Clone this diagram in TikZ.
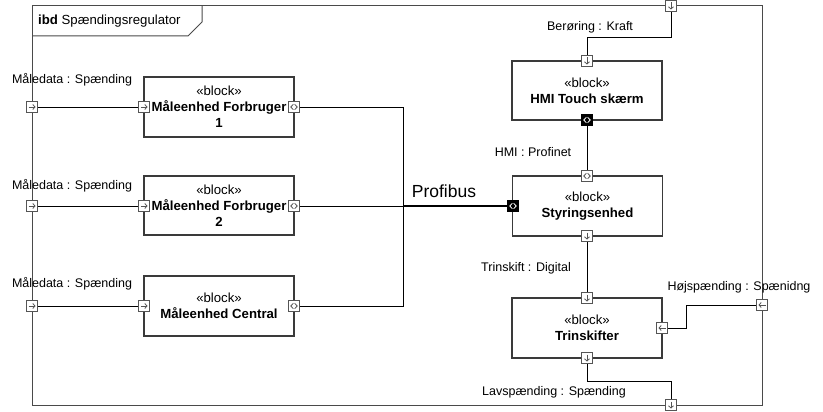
\documentclass[tikz,border=0pt]{standalone}
\usepackage{fontspec}
\setmainfont{Liberation Sans}
\usetikzlibrary{arrows.meta}
\definecolor{portgray}{HTML}{555555}
\definecolor{framegray}{HTML}{4A4A4A}
\definecolor{boxgray}{HTML}{3A3A3A}
\tikzset{
  lbl/.style={font=\fontsize{12.5}{14}\selectfont, inner sep=0pt, text=black},
  block/.style={draw=boxgray, line width=1.2pt, fill=white, minimum width=150pt, minimum height=60pt,
    align=center, font=\fontsize{13.2}{16}\selectfont, inner sep=0pt},
  conn/.style={draw=black, line width=0.9pt},
  glyph/.style={draw=portgray, line width=0.8pt},
  port/.style={rectangle, draw=portgray, fill=white, line width=1pt, minimum size=10.5pt, inner sep=0pt, outer sep=0pt},
  pR/.style={port, path picture={\draw[glyph,-{Straight Barb[length=2.2pt,width=5pt]}]
      ([xshift=-3.5pt]path picture bounding box.center) -- ([xshift=3.5pt]path picture bounding box.center);}},
  pL/.style={port, path picture={\draw[glyph,-{Straight Barb[length=2.2pt,width=5pt]}]
      ([xshift=3.5pt]path picture bounding box.center) -- ([xshift=-3.5pt]path picture bounding box.center);}},
  pD/.style={port, path picture={\draw[glyph,-{Straight Barb[length=2.2pt,width=5pt]}]
      ([yshift=3.5pt]path picture bounding box.center) -- ([yshift=-3.5pt]path picture bounding box.center);}},
  pIO/.style={port, path picture={
      \draw[glyph] ([shift={(-0.6pt,2.8pt)}]path picture bounding box.center) -- ([shift={(-3.2pt,0pt)}]path picture bounding box.center) -- ([shift={(-0.6pt,-2.8pt)}]path picture bounding box.center);
      \draw[glyph] ([shift={(0.6pt,2.8pt)}]path picture bounding box.center) -- ([shift={(3.2pt,0pt)}]path picture bounding box.center) -- ([shift={(0.6pt,-2.8pt)}]path picture bounding box.center);}},
  pIOb/.style={port, draw=black, fill=black, path picture={
      \draw[white, line width=0.8pt] ([shift={(-0.6pt,2.8pt)}]path picture bounding box.center) -- ([shift={(-3.2pt,0pt)}]path picture bounding box.center) -- ([shift={(-0.6pt,-2.8pt)}]path picture bounding box.center);
      \draw[white, line width=0.8pt] ([shift={(0.6pt,2.8pt)}]path picture bounding box.center) -- ([shift={(3.2pt,0pt)}]path picture bounding box.center) -- ([shift={(0.6pt,-2.8pt)}]path picture bounding box.center);}},
}
\begin{document}
\begin{tikzpicture}[x=1pt,y=-1pt]
\useasboundingbox[fill=white] (0,0) rectangle (823,412);

% frame
\draw[framegray, line width=1pt] (32,6) rectangle (762,405);
\draw[framegray, line width=1pt] (32,36) -- (188,36) -- (202,22) -- (202,6);
\node[lbl, anchor=west, font=\fontsize{13.2}{15}\selectfont] (title) at (38,21) {\textbf{ibd} Spændingsregulator};

% blocks
\node[block] (f1) at (219,107) {«block»\\\textbf{Måleenhed Forbruger}\\\textbf{1}};
\node[block, minimum height=59pt] (f2) at (219,205.5) {«block»\\\textbf{Måleenhed Forbruger}\\\textbf{2}};
\node[block] (mc) at (219,306) {«block»\\\textbf{Måleenhed Central}};
\node[block, minimum height=59pt] (hmi) at (587,90.5) {«block»\\\textbf{HMI Touch skærm}};
\node[block] (sty) at (587.5,206) {«block»\\\textbf{Styringsenhed}};
\node[block] (tr) at (587,328) {«block»\\\textbf{Trinskifter}};

% coordinates for routing
\coordinate (b1) at (403,107);
\coordinate (b2) at (403,206);
\coordinate (b3) at (403,306);
\coordinate (rj) at (686,305);

% connectors (drawn before ports)
\draw[conn] (32,107) -- (144,107);
\draw[conn] (32,206) -- (144,206);
\draw[conn] (32,306) -- (144,306);
\draw[conn] (294,107) -- (b1) -- (b3) -- (294,306);
\draw[conn] (294,206) -- (b2);
\draw[black, line width=2pt] (b2) -- (513,206);
\draw[conn] (671,6) -- (671,37) -- (587,37) -- (587,61);
\draw[conn] (587,120) -- (587,176);
\draw[conn] (587,236) -- (587,298);
\draw[conn] (762,305) -- (rj) |- (662,328);
\draw[conn] (587,358) -- (587,381) -- (671,381) -- (671,405);

% frame ports
\node[pR] (fp1) at (32,107) {};
\node[pR] (fp2) at (32,206) {};
\node[pR] (fp3) at (32,306) {};
\node[pD] (ftop) at (671,6) {};
\node[pL] (fright) at (762,305) {};
\node[pD] (fbot) at (671,405) {};

% block ports
\node[pR] (f1L) at (144,107) {};
\node[pIO] (f1R) at (294,107) {};
\node[pR] (f2L) at (144,206) {};
\node[pIO] (f2R) at (294,206) {};
\node[pR] (mcL) at (144,306) {};
\node[pIO] (mcR) at (294,306) {};
\node[pD] (hmiT) at (587,61) {};
\node[pIOb] (hmiB) at (587,120) {};
\node[pIO] (styT) at (587,176) {};
\node[pIOb] (styL) at (513,206) {};
\node[pD] (styB) at (587,236) {};
\node[pD] (trT) at (587,298) {};
\node[pL] (trR) at (662,328) {};
\node[pD] (trB) at (587,358) {};

% labels
\node[lbl] (l1) at (72,80) {Måledata : Spænding};
\node[lbl] (l2) at (72,186) {Måledata : Spænding};
\node[lbl] (l3) at (72,284) {Måledata : Spænding};
\node[lbl] (lber) at (590,27) {Berøring : Kraft};
\node[lbl] (lhmi) at (533,152) {HMI : Profinet};
\node[lbl, font=\fontsize{17.5}{20}\selectfont] (lpb) at (444,191) {Profibus};
\node[lbl] (ltr) at (526,268) {Trinskift : Digital};
\node[lbl] (lhoj) at (739,287) {Højspænding : Spænidng};
\node[lbl] (llav) at (554,392) {Lavspænding : Spænding};
\end{tikzpicture}
\end{document}
